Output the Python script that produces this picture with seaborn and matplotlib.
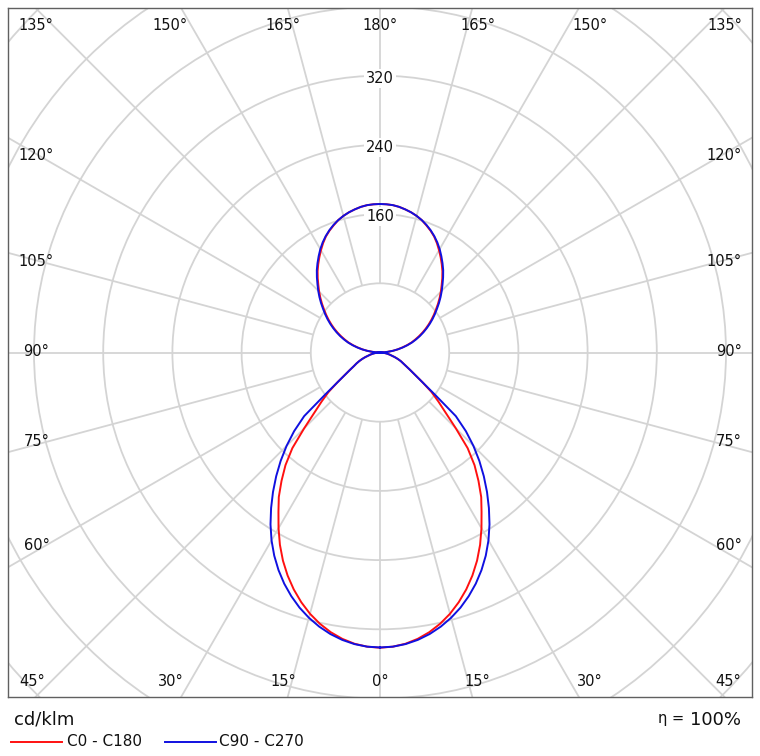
import numpy as np
import pandas as pd
import matplotlib
matplotlib.use("Agg")
import matplotlib.pyplot as plt
from matplotlib.lines import Line2D
from matplotlib.patches import Circle
import seaborn as sns

# ---------------- data ----------------
gamma = np.arange(0, 180.01, 2.5)  # gamma angle grid (deg), 0 = nadir

c0_c180 = [341.3, 340.4, 338.0, 333.9, 328.3, 321.2, 312.7, 302.7, 291.5, 279.1,
           265.5, 250.6, 234.6, 218.5, 204, 187, 170, 150, 124, 103, 88, 75, 60,
           48, 40, 34, 30, 26, 22, 18, 14, 11.5, 9, 6.5, 4, 2, 0,
           4, 9, 15, 20.5, 26, 32, 38, 43, 48.5, 54, 59.5, 65, 70.5, 76, 81.5,
           87.5, 93.5, 99.5, 105.5, 112, 118.5, 124.5, 130.5, 136.5, 142.5, 148,
           152.5, 156.5, 160.5, 163.5, 166, 168, 169.8, 171, 171.5, 171.7]

c90_c270 = [341, 340.4, 338.4, 335.1, 330.5, 324.6, 317.5, 309.3, 299.8, 289.3,
            277.6, 264.8, 250.8, 235.6, 219.5, 203.2, 186.7, 170, 152.8, 134.7,
            114.4, 80, 60, 48, 40, 34, 30, 26, 22, 18, 14, 11.5, 9, 6.5, 4, 2, 0,
            4, 9, 15, 21, 27, 33, 39, 44.5, 50, 55.5, 61, 66.5, 72, 77.5, 83, 89,
            95, 101, 107, 113.5, 120, 126, 132, 138, 143.5, 148.5, 153, 157,
            160.5, 163.5, 166, 168, 169.8, 171, 171.5, 171.7]

series_names = ["C0 - C180", "C90 - C270"]
series_colors = ["#ff1010", "#1010e0"]
ring_values = [80, 160, 240, 320, 400, 480, 560]
ring_labels = [160, 240, 320]
unit_label = "cd/klm"
eta_label = "100%"

# ---------------- build table ----------------
rows = []
for name, vals in zip(series_names, [c0_c180, c90_c270]):
    g = np.radians(gamma)
    v = np.asarray(vals, dtype=float)
    # right half 0 -> 180, then left half 180 -> 0
    xr, yr = v * np.sin(g), -v * np.cos(g)
    xl, yl = -v[::-1] * np.sin(g[::-1]), -v[::-1] * np.cos(g[::-1])
    xs = np.concatenate([xr, xl])
    ys = np.concatenate([yr, yl])
    for i, (x, y) in enumerate(zip(xs, ys)):
        rows.append({"x": x, "y": y, "series": name, "order": i})
df = pd.DataFrame(rows)

# ---------------- figure ----------------
W, H = 760, 756
fig = plt.figure(figsize=(W / 100, H / 100), dpi=100)
fig.patch.set_facecolor("white")
ax = fig.add_axes([8 / W, (H - 697) / H, 744 / W, 689 / H])
s = 0.865  # px per cd/klm
ax.set_xlim(-372 / s, 372 / s)
ax.set_ylim(-344.5 / s, 344.5 / s)

grid_c = "#d4d4d4"
for r in ring_values:
    ax.add_patch(Circle((0, 0), r, fill=False, ec=grid_c, lw=1.3, zorder=1))
for a in range(0, 360, 15):
    t = np.radians(a)
    ax.plot([80 * np.sin(t), 900 * np.sin(t)], [80 * np.cos(t), 900 * np.cos(t)],
            color=grid_c, lw=1.3, zorder=1, solid_capstyle="butt")

for r in ring_labels:
    ax.text(0, r - 3, str(r), ha="center", va="center", fontsize=10.5,
            color="#111111", zorder=2,
            bbox=dict(boxstyle="square,pad=0.12", fc="white", ec="none"))

sns.lineplot(data=df, x="x", y="y", hue="series", palette=dict(zip(series_names, series_colors)),
             sort=False, estimator=None, legend=False, lw=1.4, ax=ax, zorder=3)

ax.set_xticks([])
ax.set_yticks([])
ax.set_xlabel("")
ax.set_ylabel("")
for sp in ax.spines.values():
    sp.set_color("#606060")
    sp.set_linewidth(1.0)


def fp(x, y):
    return x / W, 1 - y / H


fs = 10.5
top = [(35.5, "135°"), (169.5, "150°"), (282.5, "165°"), (380, "180°"),
       (477.5, "165°"), (590.5, "150°"), (724.5, "135°")]
for x, t in top:
    fig.text(*fp(x, 25), t, ha="center", va="center", fontsize=fs, color="#111111")
bottom = [(32, "45°"), (170.5, "30°"), (283.5, "15°"), (380, "0°"),
          (477, "15°"), (590, "30°"), (728.5, "45°")]
for x, t in bottom:
    fig.text(*fp(x, 681), t, ha="center", va="center", fontsize=fs, color="#111111")
sides = [(155, "120°"), (262, "105°"), (352, "90°"), (441, "75°"), (546, "60°")]
for y, t in sides:
    fig.text(*fp(36.5, y), t, ha="center", va="center", fontsize=fs, color="#111111")
    fig.text(*fp(742, y), t, ha="right", va="center", fontsize=fs, color="#111111")

# legend / footer
fig.text(*fp(14, 719), unit_label, ha="left", va="center", fontsize=13, color="#111111")
fig.text(*fp(741, 720), eta_label, ha="right", va="center", fontsize=13, color="#111111")
fig.text(*fp(684, 718), "η =", ha="right", va="center", fontsize=10.5, color="#111111")

lx = [(11, 62, 67, 0), (165, 216, 219, 1)]
for x0, x1, xt, i in lx:
    fig.add_artist(Line2D([x0 / W, x1 / W], [1 - 742 / H, 1 - 742 / H],
                          color=series_colors[i], lw=1.4))
    fig.text(*fp(xt, 742), series_names[i], ha="left", va="center", fontsize=11,
             color="#111111")

fig.savefig("out.png", dpi=100, facecolor="white")
